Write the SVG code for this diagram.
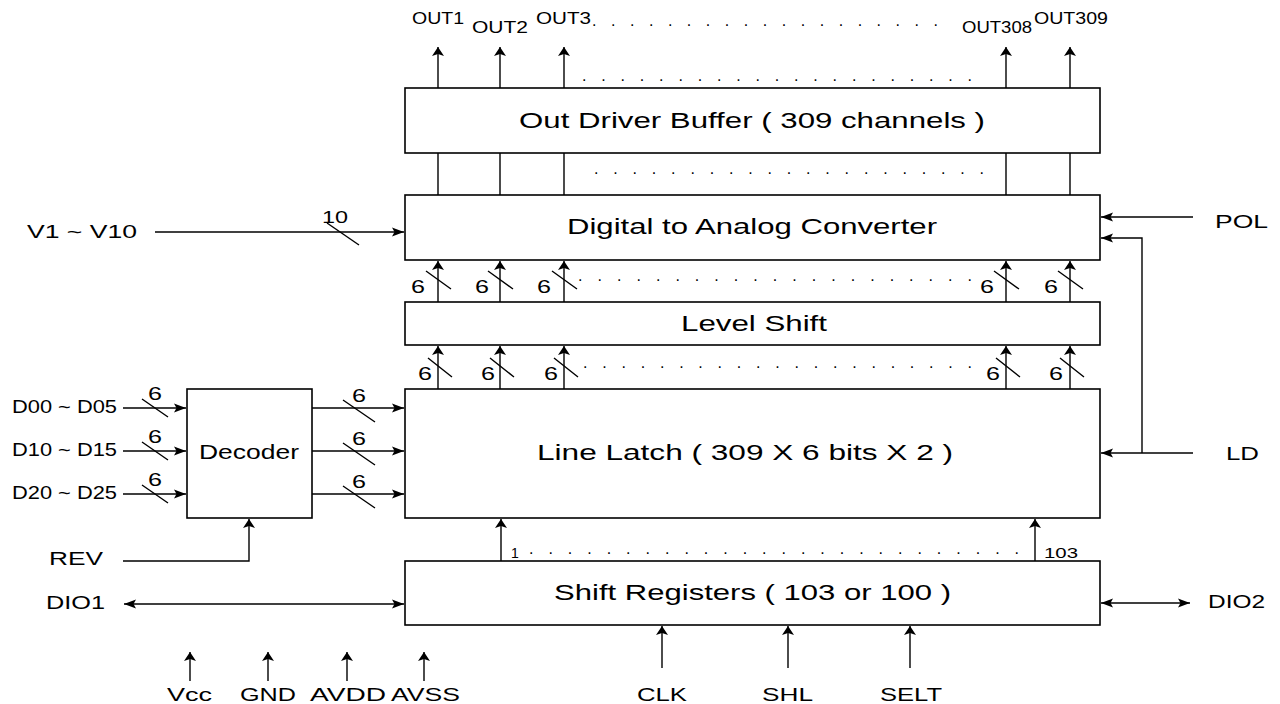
<svg xmlns="http://www.w3.org/2000/svg" width="1280" height="704" viewBox="0 0 1280 704">
<defs>
<style>
.box{fill:#fff;stroke:#000;stroke-width:1.6}
.ln{fill:none;stroke:#000;stroke-width:1.4}
.ah{marker-end:url(#ah)}
.av{marker-end:url(#av)}
.dbl{marker-start:url(#ah);marker-end:url(#ah)}
.t{font-family:"Liberation Sans",Arial,sans-serif;fill:#000}
.big{font-size:22px}
.mid{font-size:17.5px}
.pw{font-size:18.5px}
.sm{font-size:14px}
.out{font-size:16px}
.bus{font-size:18px}
.dots{font-size:16px;font-family:"Liberation Sans",Arial,sans-serif;fill:#000}
</style>
<marker id="ah" markerUnits="userSpaceOnUse" markerWidth="14" markerHeight="10" refX="12" refY="4.5" orient="auto-start-reverse" overflow="visible">
<path d="M0,0 L12,4.5 L0,9 L2.5,4.5 z" fill="#000"/>
</marker>
<marker id="av" markerUnits="userSpaceOnUse" markerWidth="10" markerHeight="12" refX="9" refY="6" orient="auto" overflow="visible">
<path d="M0,0 L9,6 L0,12 L2,6 z" fill="#000"/>
</marker>
</defs>
<rect width="1280" height="704" fill="#fff"/>

<g id="connectors">
<path class="ln av" d="M438,88 V47"/>
<path class="ln av" d="M500,88 V47"/>
<path class="ln av" d="M564,88 V47"/>
<path class="ln av" d="M1006,88 V47"/>
<path class="ln av" d="M1070,88 V47"/>
<path class="ln" d="M438,153 V195 M500,153 V195 M564,153 V195 M1006,153 V195 M1070,153 V195"/>
<path class="ln av" d="M438,302 V261"/>
<path class="ln av" d="M500,302 V261"/>
<path class="ln av" d="M564,302 V261"/>
<path class="ln av" d="M1006,302 V261"/>
<path class="ln av" d="M1070,302 V261"/>
<path class="ln" d="M426,271 L451,289 M488,271 L513,289 M552,271 L577,289 M994,271 L1019,289 M1058,271 L1083,289"/>
<path class="ln av" d="M438,389 V346"/>
<path class="ln av" d="M500,389 V346"/>
<path class="ln av" d="M564,389 V346"/>
<path class="ln av" d="M1006,389 V346"/>
<path class="ln av" d="M1070,389 V346"/>
<path class="ln" d="M428,358 L452,377 M490,358 L514,377 M554,358 L578,377 M996,358 L1020,377 M1060,358 L1084,377"/>
<path class="ln ah" d="M123,408 H186"/>
<path class="ln ah" d="M123,451 H186"/>
<path class="ln ah" d="M123,494 H186"/>
<path class="ln" d="M142,399 L168,417 M142,442 L168,460 M142,485 L168,503"/>
<path class="ln ah" d="M312,408 H404"/>
<path class="ln ah" d="M312,451 H404"/>
<path class="ln ah" d="M312,494 H404"/>
<path class="ln" d="M343,400 L375,422 M343,443 L375,465 M343,486 L375,508"/>
<path class="ln ah" d="M155,232 H404"/>
<path class="ln" d="M327,223 L359,245"/>
<path class="ln ah" d="M1193,217 H1101"/>
<path class="ln ah" d="M1193,453 H1101"/>
<path class="ln ah" d="M1142,453 V238 H1101"/>
<path class="ln av" d="M123,561 H249 V519"/>
<path class="ln dbl" d="M124,604 H404"/>
<path class="ln dbl" d="M1101,603 H1190"/>
<path class="ln av" d="M501,561 V519"/>
<path class="ln av" d="M1035,561 V519"/>
<path class="ln av" d="M662,668 V626"/>
<path class="ln av" d="M788,668 V626"/>
<path class="ln av" d="M910,668 V626"/>
<path class="ln av" d="M190,681 V652"/>
<path class="ln av" d="M268,681 V652"/>
<path class="ln av" d="M347,681 V652"/>
<path class="ln av" d="M424,681 V652"/>
</g>

<g id="outbuf">
<rect class="box" x="405" y="88" width="695" height="65"/>
<text class="t big" x="519" y="128" textLength="466" lengthAdjust="spacingAndGlyphs">Out Driver Buffer ( 309 channels )</text>
</g>
<g id="dac">
<rect class="box" x="405" y="195" width="695" height="65"/>
<text class="t big" x="567" y="234" textLength="370" lengthAdjust="spacingAndGlyphs">Digital to Analog Converter</text>
</g>
<g id="levelshift">
<rect class="box" x="405" y="302" width="695" height="43"/>
<text class="t big" x="681" y="331" textLength="146" lengthAdjust="spacingAndGlyphs">Level Shift</text>
</g>
<g id="linelatch">
<rect class="box" x="405" y="389" width="695" height="129"/>
<text class="t big" x="537" y="460" textLength="416" lengthAdjust="spacingAndGlyphs">Line Latch ( 309 X 6 bits X 2 )</text>
</g>
<g id="shiftreg">
<rect class="box" x="405" y="561" width="695" height="64"/>
<text class="t big" x="554" y="600" textLength="397" lengthAdjust="spacingAndGlyphs">Shift Registers ( 103 or 100 )</text>
</g>
<g id="decoder">
<rect class="box" x="187" y="389" width="125" height="129"/>
<text class="t" x="199" y="459" textLength="100" lengthAdjust="spacingAndGlyphs" style="font-size:19.5px">Decoder</text>
</g>

<g id="labels">
<text class="t out" x="412" y="24" textLength="52" lengthAdjust="spacingAndGlyphs">OUT1</text>
<text class="t out" x="472" y="33" textLength="56" lengthAdjust="spacingAndGlyphs">OUT2</text>
<text class="t out" x="536" y="24" textLength="55" lengthAdjust="spacingAndGlyphs">OUT3</text>
<text class="t out" x="962" y="33" textLength="70" lengthAdjust="spacingAndGlyphs">OUT308</text>
<text class="t out" x="1034" y="24" textLength="74" lengthAdjust="spacingAndGlyphs">OUT309</text>
<text class="dots" x="592" y="26" textLength="346" lengthAdjust="spacing">. . . . . . . . . . . . . . . . . . .</text>
<text class="dots" x="582" y="81" textLength="390" lengthAdjust="spacing">. . . . . . . . . . . . . . . . . . . . .</text>
<text class="dots" x="594" y="174" textLength="390" lengthAdjust="spacing">. . . . . . . . . . . . . . . . . . . . .</text>
<text class="dots" x="578" y="281" textLength="394" lengthAdjust="spacing">. . . . . . . . . . . . . . . . . . . . .</text>
<text class="dots" x="583" y="368" textLength="389" lengthAdjust="spacing">. . . . . . . . . . . . . . . . . . . . .</text>
<text class="dots" x="529" y="554" textLength="490" lengthAdjust="spacing">. . . . . . . . . . . . . . . . . . . . . . . . . .</text>
<text class="t sm" x="511" y="558">1</text>
<text class="t sm" x="1044" y="558" textLength="34" lengthAdjust="spacingAndGlyphs">103</text>

<text class="t bus" x="411" y="293" textLength="14" lengthAdjust="spacingAndGlyphs">6</text>
<text class="t bus" x="475" y="293" textLength="14" lengthAdjust="spacingAndGlyphs">6</text>
<text class="t bus" x="537" y="293" textLength="14" lengthAdjust="spacingAndGlyphs">6</text>
<text class="t bus" x="980" y="293" textLength="14" lengthAdjust="spacingAndGlyphs">6</text>
<text class="t bus" x="1044" y="293" textLength="14" lengthAdjust="spacingAndGlyphs">6</text>
<text class="t bus" x="418" y="380" textLength="14" lengthAdjust="spacingAndGlyphs">6</text>
<text class="t bus" x="481" y="380" textLength="14" lengthAdjust="spacingAndGlyphs">6</text>
<text class="t bus" x="544" y="380" textLength="14" lengthAdjust="spacingAndGlyphs">6</text>
<text class="t bus" x="986" y="380" textLength="14" lengthAdjust="spacingAndGlyphs">6</text>
<text class="t bus" x="1049" y="380" textLength="14" lengthAdjust="spacingAndGlyphs">6</text>

<text class="t bus" x="148" y="400" textLength="14" lengthAdjust="spacingAndGlyphs">6</text>
<text class="t bus" x="148" y="443" textLength="14" lengthAdjust="spacingAndGlyphs">6</text>
<text class="t bus" x="148" y="486" textLength="14" lengthAdjust="spacingAndGlyphs">6</text>
<text class="t bus" x="352" y="402" textLength="14" lengthAdjust="spacingAndGlyphs">6</text>
<text class="t bus" x="352" y="445" textLength="14" lengthAdjust="spacingAndGlyphs">6</text>
<text class="t bus" x="352" y="488" textLength="14" lengthAdjust="spacingAndGlyphs">6</text>
<text class="t" x="322" y="223" style="font-size:16px" textLength="26" lengthAdjust="spacingAndGlyphs">10</text>

<text class="t mid" x="12" y="413" textLength="105" lengthAdjust="spacingAndGlyphs">D00 ~ D05</text>
<text class="t mid" x="12" y="456" textLength="105" lengthAdjust="spacingAndGlyphs">D10 ~ D15</text>
<text class="t mid" x="12" y="499" textLength="105" lengthAdjust="spacingAndGlyphs">D20 ~ D25</text>
<text class="t mid" x="27" y="238" textLength="110" lengthAdjust="spacingAndGlyphs">V1 ~ V10</text>
<text class="t mid" x="1215" y="228" textLength="53" lengthAdjust="spacingAndGlyphs">POL</text>
<text class="t mid" x="1226" y="460" textLength="33" lengthAdjust="spacingAndGlyphs">LD</text>
<text class="t mid" x="49" y="565" textLength="54" lengthAdjust="spacingAndGlyphs">REV</text>
<text class="t mid" x="46" y="609" textLength="59" lengthAdjust="spacingAndGlyphs">DIO1</text>
<text class="t mid" x="1208" y="608" textLength="57" lengthAdjust="spacingAndGlyphs">DIO2</text>
<text class="t pw" x="167" y="701" textLength="45" lengthAdjust="spacingAndGlyphs">Vcc</text>
<text class="t pw" x="240" y="701" textLength="56" lengthAdjust="spacingAndGlyphs">GND</text>
<text class="t pw" x="310" y="701" textLength="76" lengthAdjust="spacingAndGlyphs">AVDD</text>
<text class="t pw" x="391" y="701" textLength="69" lengthAdjust="spacingAndGlyphs">AVSS</text>
<text class="t pw" x="637" y="701" textLength="50" lengthAdjust="spacingAndGlyphs">CLK</text>
<text class="t pw" x="762" y="701" textLength="51" lengthAdjust="spacingAndGlyphs">SHL</text>
<text class="t pw" x="880" y="701" textLength="62" lengthAdjust="spacingAndGlyphs">SELT</text>
</g>
</svg>
